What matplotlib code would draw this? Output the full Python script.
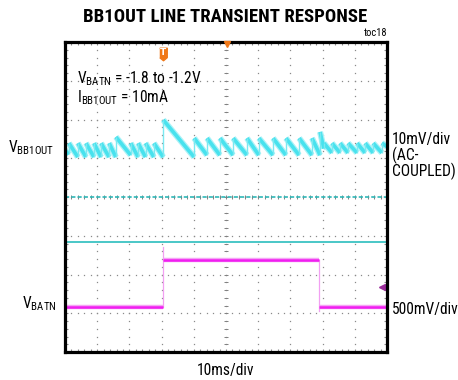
import matplotlib.pyplot as plt
import numpy as np
from matplotlib import font_manager
from matplotlib.collections import LineCollection

# pick a narrow sans if one is installed, otherwise shrink Liberation Sans
installed = {f.name for f in font_manager.fontManager.ttflist}
narrow = next((n for n in ['Liberation Sans Narrow', 'Roboto Condensed', 'Open Sans Condensed',
                           'Arial Narrow'] if n in installed), None)
base = narrow if narrow else 'Liberation Sans'
shrink = 1.0 if narrow else 0.83

plt.rcParams['font.family'] = [base, 'Liberation Sans', 'DejaVu Sans']
plt.rcParams['mathtext.fontset'] = 'custom'
plt.rcParams['mathtext.rm'] = base
plt.rcParams['lines.scale_dashes'] = False

W, H = 458, 380

# V_BB1OUT, AC coupled, mV from screen centre. each tooth jumps to its peak
# and ramps down to its trough by the time of the next tooth
start_ms, start_mv = 0.0, 12.1
tooth_ms = [1.2, 4.0, 6.5, 9.0, 11.2, 13.7, 15.8, 20.4, 22.7, 25.0, 27.6, 30.5,
            40.1, 44.1, 48.1, 52.2, 56.5, 60.2, 64.6, 68.6, 72.7, 76.7, 79.2,
            80.4, 82.9, 85.4, 87.9, 90.7, 93.2, 95.7, 98.4]
tooth_peak_mv = [13.9, 13.9, 13.9, 13.9, 13.9, 13.9, 15.5, 13.9, 13.9, 13.9, 13.9, 19.9,
                 15.2, 15.2, 15.2, 15.2, 15.2, 15.2, 15.2, 15.2, 15.2, 15.2, 16.8,
                 13.9, 13.9, 13.9, 13.9, 13.9, 13.9, 13.9, 13.9]
tooth_trough_mv = [10.3, 10.3, 10.3, 10.3, 10.3, 10.3, 10.8, 10.3, 10.3, 10.3, 10.3, 10.3,
                   10.8, 10.8, 10.8, 10.8, 10.8, 10.8, 10.8, 10.8, 10.8, 10.8, 12.5,
                   11.4, 11.4, 11.4, 11.4, 11.4, 11.4, 11.4, 13.0]
first_trough_mv = 11.0

# V_BATN step
batn_edge_ms = [0.0, 30.3, 79.0, 100.0]
batn_level_v = [-1.8, -1.2, -1.8]
batn_edge_peak_v = [-1.03, -1.85]

# scope settings
ch1_mv_per_div = 10.0
ch2_v_per_div = 0.5
ch2_bottom_v = -2.3845
ref_dashed_div = 4.0
ref_solid_div = 2.84


def ch1(mv):
    return 4.0 + np.asarray(mv) / ch1_mv_per_div


def ch2(v):
    return (np.asarray(v) - ch2_bottom_v) / ch2_v_per_div


def fx(x):
    return x / W


def fy(y):
    return 1 - y / H


fig = plt.figure(figsize=(W / 100, H / 100), dpi=100)
ax = fig.add_axes([fx(65), fy(352), 322 / W, 310 / H])
ax.set_xlim(0, 100)
ax.set_ylim(0, 8)

# graticule
grid_c = '#8a8a8a'
for k in range(1, 10):
    yy = np.arange(0, 8.01, 0.2)
    ax.plot(np.full_like(yy, 10 * k), yy, ls='', marker='s', ms=0.9, mew=0, color=grid_c)
for j in range(1, 8):
    xx = np.arange(0, 100.1, 2)
    ax.plot(xx, np.full_like(xx, j), ls='', marker='s', ms=0.9, mew=0, color=grid_c)
yy = np.arange(0, 8.01, 0.2)
ax.plot(np.full_like(yy, 50), yy, ls='', marker='_', ms=3.5, mew=0.7, color='#808080')
xx = np.arange(0, 100.1, 2)
ax.plot(xx, np.full_like(xx, 4), ls='', marker='|', ms=3.5, mew=0.7, color='#808080')

ax.set_xticks(np.arange(0, 100.1, 2))
ax.set_yticks(np.arange(0, 8.01, 0.2))
ax.tick_params(direction='in', length=2.5, width=0.8, color=grid_c,
               top=True, right=True, labelbottom=False, labelleft=False)
for s in ax.spines.values():
    s.set_linewidth(2.3)
    s.set_zorder(10)

# reference lines
ax.axhline(ref_dashed_div, color='#2fb7b7', lw=1.2, dashes=(3, 1.5), zorder=3)
ax.axhline(ref_solid_div, color='#3cc3c3', lw=1.3)

# V_BB1OUT trace: thick ramps, thin rising edges
ramps, rises = [], []
prev_t, prev_v = start_ms, start_mv
for t, pk, tr in zip(tooth_ms, tooth_peak_mv, tooth_trough_mv):
    low = first_trough_mv if prev_t == start_ms else prev_tr
    ramps.append([(prev_t, ch1(prev_v)), (t, ch1(low))])
    rises.append([(t, ch1(low)), (t, ch1(pk))])
    prev_t, prev_v, prev_tr = t, pk, tr
ramps.append([(prev_t, ch1(prev_v)), (100.0, ch1(prev_tr))])
ax.add_collection(LineCollection(ramps, colors='#aaf2f7', linewidths=4.4, capstyle='butt', zorder=3))
ax.add_collection(LineCollection(ramps, colors='#48e2ee', linewidths=2.6, capstyle='butt', zorder=4))
ax.add_collection(LineCollection(rises, colors='#7ae9f1', linewidths=1.0, zorder=4))

# V_BATN trace
for i in range(3):
    lvl = ch2([batn_level_v[i]] * 2)
    ax.plot(batn_edge_ms[i:i + 2], lvl, color='#f5a3f5', lw=3.2, solid_capstyle='butt', zorder=3)
    ax.plot(batn_edge_ms[i:i + 2], lvl, color='#f01ef0', lw=1.8, solid_capstyle='butt', zorder=4)
ax.plot([batn_edge_ms[1]] * 2, ch2([batn_level_v[0], batn_edge_peak_v[0]]), color='#f2a0f2', lw=0.9, zorder=3)
ax.plot([batn_edge_ms[2]] * 2, ch2([batn_level_v[1], batn_edge_peak_v[1]]), color='#f2a0f2', lw=0.9, zorder=3)

# scope markers
orange = '#f07818'
ax.plot(batn_edge_ms[1], 7.68, ls='', color=orange, ms=9,
        marker=[(-0.6, 1), (0.6, 1), (0.6, -0.5), (0, -1), (-0.6, -0.5)])
ax.text(batn_edge_ms[1], 7.72, 'T', color='white', fontsize=6.5, fontweight='bold',
        ha='center', va='center', family='DejaVu Sans')
ax.plot(50.2, 7.94, ls='', marker='v', ms=5, color=orange, clip_on=False, zorder=11)
ax.plot([98.7, 99.8], [1.685, 1.685], color='#9b2d9b', lw=1.5)
ax.plot(98.6, 1.685, ls='', marker='<', ms=5, color='#9b2d9b')

# texts
fs = 11.2 * shrink
fig.text(fx(225), fy(17), 'BB1OUT LINE TRANSIENT RESPONSE', ha='center', va='center',
         fontsize=13.5 * shrink, fontweight='bold')
fig.text(fx(387), fy(33), 'toc18', ha='right', va='center', fontsize=7.5 * shrink)
fig.text(fx(77), fy(83), r'V$_{\mathrm{BATN}}$ = -1.8 to -1.2V', fontsize=fs, va='baseline')
fig.text(fx(77), fy(102), r'I$_{\mathrm{BB1OUT}}$ = 10mA', fontsize=fs, va='baseline')
fig.text(fx(8), fy(152), r'V$_{\mathrm{BB1OUT}}$', fontsize=fs, va='baseline')
fig.text(fx(22), fy(308), r'V$_{\mathrm{BATN}}$', fontsize=fs, va='baseline')
fig.text(fx(392), fy(144), '10mV/div', fontsize=fs, va='baseline')
fig.text(fx(392), fy(160), '(AC-', fontsize=fs, va='baseline')
fig.text(fx(392), fy(176), 'COUPLED)', fontsize=fs, va='baseline')
fig.text(fx(392), fy(314), '500mV/div', fontsize=fs, va='baseline')
fig.text(fx(226), fy(370), '10ms/div', fontsize=fs, ha='center', va='center')

fig.savefig('out.png', dpi=100)
